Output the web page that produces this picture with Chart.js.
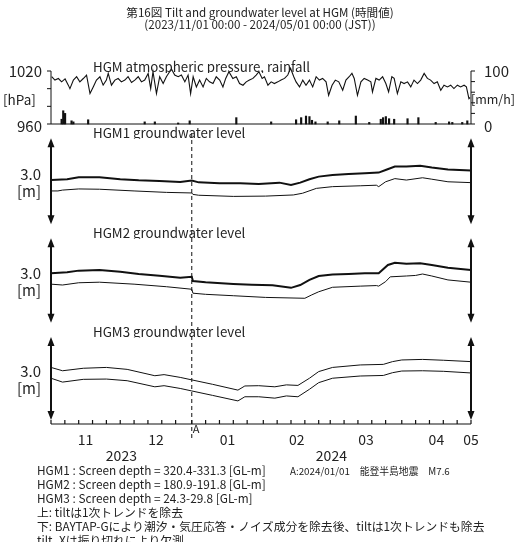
<!DOCTYPE html>
<html>
<head>
<meta charset="utf-8">
<script src="https://cdn.jsdelivr.net/npm/chart.js@4.4.1/dist/chart.umd.min.js"></script>
<style>
  html, body { margin: 0; padding: 0; background: #fff; }
  canvas { display: block; }
</style>
</head>
<body>
<canvas id="chart" width="516" height="542"></canvas>
<script>
// x values are days since 2023/11/01 00:00 (JST)

// atmospheric pressure [hPa]
const pressDay = [0.3,1.7,3.2,4.6,6.1,7.5,8.2,9.7,11.1,12.5,14,15.4,16.9,18.3,19.7,21.2,22.6,24,24.8,26.2,
  27.7,29.1,30.5,32,33.4,34.9,36.3,37.8,39.2,40.6,42.1,43.2,44.2,45.7,47.1,48.6,50,51.4,52.2,53.6,
  55.1,56.5,58,59.4,60.5,61.6,63.0,64.4,65.9,67.3,68.7,70.2,71.6,73.1,74.5,75.7,77.1,78.8,80.3,81.7,
  83.2,84.6,86.0,87.5,88.9,90.1,91.5,92.5,94.0,95.4,96.8,98.3,99.7,101.2,102.6,103.8,105.2,106.2,107.7,109.1,
  110.5,112.0,113.4,114.9,116.3,117.7,119.2,120.3,121.8,123.2,124.7,126.4,127.8,129.2,130.4,131.4,132.8,134.3,135.7,137.2,
  138.6,139.3,140.8,142.2,143.7,145.1,146.3,147.7,148.7,150.1,151.6,153.0,154.5,155.9,157.3,158.8,160.2,161.7,163.1,164.5,
  166.0,167.4,168.9,170.3,171.8,173.2,174.6,176.1,177.5,179.0,180.0,181.1,181.6];
const pressHpa = [1013.5,1009.7,1011.5,1007.7,1011,1004,1000,1009.7,1013.5,1007.7,1011.5,1015.4,994.4,1002,1009.7,1013.5,1004,1009.7,1017.3,1004,
  1009.7,1011.5,1007.7,1009.7,1013.5,1007,1009.7,1013.5,1007.7,1009.7,1017.3,1000,1019.2,994.4,1013.5,1005.8,1013.5,1019.2,1022.3,1015.4,
  1013.5,1015.4,1007.7,1015.4,994.4,1013.5,1002,1009.7,1002,1011.6,1007.7,1005.8,1013.5,1009.7,1002,1011.6,1019.2,1011.6,1013.5,1005.8,
  1003.9,1007.7,1009.7,1011.6,1015.4,1019.2,1011.6,1013.5,1003.9,1007.7,1005.8,1007.7,1009.7,1011.6,1015.4,1023,1013.5,1007.7,1002,1009.7,
  1003.9,1009.7,1002,1013.5,1009.7,1011.6,1007.7,992.5,1003.9,1009.7,1007.7,998.2,1009.7,1013.5,1017.3,1011.6,992.5,1007.7,1011.6,1009.7,
  1007.7,996.3,1011.6,1009.7,1013.5,1005.8,996.3,1013.5,1011.6,994.4,1007.7,1005.8,1007.7,1002,1009.7,1005.8,1009.7,1017.3,1011.6,1009.7,
  1005.8,1007.7,998.2,1003.9,1002,1003.9,1000.1,1003.9,1002,1003.9,1002,988.7,990];

// rainfall [mm/h]
const rainDay = [4.6,5.3,6.1,8.9,9.7,16.1,40.6,45.0,55.1,60.1,80.3,95.4,106.2,108.4,110.5,112.0,113.1,114.6,119.9,124.9,
  132.1,137.9,142.9,143.9,145.1,146.5,148.7,154.5,159.2,166.7,172.5,173.9,178.2,180.4];
const rainMm = [9,25,20,6,4,8,4,4,2,6,12,4,8,12,15,14,7,4,4,6,15,3,9,12,14,10,9,10,12,3,4,3,3,6];

// groundwater level [m] (relative), upper = observed, lower = corrected
const h1UpDay = [0,7,12,21,30,38,47,56,61,64,73,82,90,99,104,108,112,116,122,129,136,142,145,149,154,160,165,172,182];
const h1Up = [0.04,0.07,0.14,0.14,0.07,0.03,0.01,-0.03,0.02,-0.04,-0.07,-0.07,-0.10,-0.05,-0.13,-0.05,0.07,0.16,0.22,0.25,0.28,0.30,0.39,0.51,0.51,0.54,0.48,0.41,0.37];
const h1LoDay = [0,3,5,12,21,36,50,61,61.5,64,79,93,105,109,115,122,134,141,142,145,149,154,161,165,172,182];
const h1Lo = [-0.34,-0.34,-0.31,-0.27,-0.28,-0.34,-0.39,-0.41,-0.46,-0.49,-0.53,-0.52,-0.48,-0.42,-0.25,-0.19,-0.16,-0.14,-0.19,-0.02,0.09,0.04,0.12,0.07,-0.02,-0.05];

const h2UpDay = [0,7,12,21,30,38,47,56,61,61.5,67,79,87,96,104,108,112,116,122,129,136,142,146,149,154,160,165,172,182];
const h2Up = [0.26,0.29,0.35,0.37,0.31,0.23,0.17,0.10,0.13,-0.02,-0.06,-0.12,-0.15,-0.17,-0.26,-0.16,0.02,0.16,0.21,0.23,0.26,0.26,0.55,0.63,0.59,0.61,0.55,0.45,0.37];
const h2LoDay = [0,5,12,21,36,50,61,61.5,67,79,93,110,113,116,122,134,141,142,145,147,154,158,161,165,172,182];
const h2Lo = [-0.13,-0.16,-0.08,-0.06,-0.13,-0.22,-0.31,-0.45,-0.49,-0.54,-0.60,-0.63,-0.51,-0.40,-0.24,-0.20,-0.18,-0.20,-0.04,0.13,0.16,0.18,0.23,0.16,0.02,-0.06];

const h3Day = [0,5,14,24,33,45,49,56,61,70,81,84,90,97,102,107,112,116,122,134,144,148,152,161,170,182];
const h3Up = [0.40,0.28,0.37,0.40,0.33,0.10,0.14,0.04,-0.05,-0.21,-0.42,-0.27,-0.26,-0.30,-0.23,-0.25,0.01,0.25,0.40,0.49,0.51,0.61,0.67,0.69,0.66,0.61];
const h3Lo = [0.01,-0.13,-0.03,-0.02,-0.08,-0.30,-0.26,-0.36,-0.45,-0.61,-0.81,-0.66,-0.66,-0.71,-0.63,-0.66,-0.39,-0.15,0.01,0.09,0.11,0.21,0.27,0.28,0.26,0.20];

// x axis
const monthStart = [0,30,61,92,121,152,182];
const monthLabels = ['11','12','01','02','03','04','05'];
const monthLabelDay = [15,45.5,76.5,106.5,136.5,167,182];
const yearLabels = ['2023','2024'];
const yearLabelDay = [30.5,121.5];
const quakeDay = 61;

const pressTicks = [960,980,1000,1020];
const rainTicks = [0,20,40,60,80,100];

const FONT = "'Noto Sans CJK JP', 'Open Sans', sans-serif";
const AREA = {left: 51, right: 471, top: 60, bottom: 424};

// min/max so that vTop lands on pixel pTop and vBot on pBot
function fitRange(vTop, pTop, vBot, pBot) {
  const k = (pBot - pTop) / (vTop - vBot);
  return {min: vBot - (AREA.bottom - pBot) / k, max: vTop + (pTop - AREA.top) / k};
}

function pts(xs, ys) {
  return xs.map((x, i) => ({x: x, y: ys[i]}));
}

function lineSet(xs, ys, axis, width) {
  return {
    type: 'line', data: pts(xs, ys), yAxisID: axis,
    borderColor: '#111', borderWidth: width, pointRadius: 0, tension: 0, fill: false
  };
}

function yScale(range) {
  return Object.assign({type: 'linear', display: false}, range);
}

const panels = [
  {axis: 'y1', name: 'HGM1 groundwater level'},
  {axis: 'y2', name: 'HGM2 groundwater level'},
  {axis: 'y3', name: 'HGM3 groundwater level'}
];

function arrow(ctx, x, y0, y1) {
  ctx.beginPath();
  ctx.moveTo(x, y0 + 8);
  ctx.lineTo(x, y1 - 8);
  ctx.lineWidth = 2;
  ctx.stroke();
  ctx.beginPath();
  ctx.moveTo(x, y0); ctx.lineTo(x - 3.5, y0 + 9); ctx.lineTo(x + 3.5, y0 + 9); ctx.closePath();
  ctx.moveTo(x, y1); ctx.lineTo(x - 3.5, y1 - 9); ctx.lineTo(x + 3.5, y1 - 9); ctx.closePath();
  ctx.fill();
}

const decor = {
  id: 'decor',
  afterDraw(chart) {
    const ctx = chart.ctx;
    const sx = chart.scales.x, sp = chart.scales.yP, sr = chart.scales.yR;
    const L = sx.getPixelForValue(0), R = sx.getPixelForValue(182), B = chart.chartArea.bottom;
    ctx.save();
    ctx.strokeStyle = '#111';
    ctx.fillStyle = '#222';

    // title
    ctx.textAlign = 'center';
    ctx.textBaseline = 'middle';
    ctx.font = '11.6px ' + FONT;
    ctx.fillText('第16図 Tilt and groundwater level at HGM (時間値)', 260, 13);
    ctx.fillText('(2023/11/01 00:00 - 2024/05/01 00:00 (JST))', 260, 25);

    // pressure / rain panel axes
    ctx.lineWidth = 1;
    const pTop = sp.getPixelForValue(1020), pBot = sp.getPixelForValue(960);
    ctx.beginPath();
    ctx.moveTo(L, pTop); ctx.lineTo(L, pBot);
    pressTicks.forEach(v => { const y = sp.getPixelForValue(v); ctx.moveTo(L - 4, y); ctx.lineTo(L, y); });
    const rTop = sr.getPixelForValue(100), rBot = sr.getPixelForValue(0);
    ctx.moveTo(R, rTop); ctx.lineTo(R, rBot);
    rainTicks.forEach(v => { const y = sr.getPixelForValue(v); ctx.moveTo(R, y); ctx.lineTo(R + 4, y); });
    ctx.moveTo(L, rBot); ctx.lineTo(R, rBot);
    ctx.stroke();

    ctx.font = '15px ' + FONT;
    ctx.textAlign = 'right';
    ctx.fillText('1020', 42, pTop);
    ctx.fillText('960', 42, pBot + 2);
    ctx.textAlign = 'left';
    ctx.fillText('100', 484, rTop);
    ctx.fillText('0', 484, rBot + 2);
    ctx.font = '13.5px ' + FONT;
    ctx.fillText('[hPa]', 3, 100);
    ctx.font = '12.5px ' + FONT;
    ctx.textAlign = 'right';
    ctx.fillText('[mm/h]', 515, 99);

    // panel titles (descenders hidden like the original)
    ctx.font = '13.3px ' + FONT;
    ctx.textAlign = 'left';
    ctx.textBaseline = 'alphabetic';
    const titleBase = [72];
    panels.forEach(p => titleBase.push(chart.scales[p.axis].getPixelForValue(1.5) - 0.5));
    const titleText = ['HGM atmospheric pressure, rainfall'].concat(panels.map(p => p.name));
    titleText.forEach((t, i) => {
      ctx.save();
      ctx.beginPath();
      ctx.rect(0, titleBase[i] - 20, 516, 21);
      ctx.clip();
      ctx.fillText(t, 93, titleBase[i]);
      ctx.restore();
    });

    // groundwater panels: 3.0 m scale arrows
    ctx.fillStyle = '#111';
    panels.forEach(p => {
      const s = chart.scales[p.axis];
      const y0 = s.getPixelForValue(1.5), y1 = s.getPixelForValue(-1.5), yc = s.getPixelForValue(0);
      arrow(ctx, L, y0, y1);
      arrow(ctx, R, y0, y1);
      ctx.fillStyle = '#222';
      ctx.font = '15px ' + FONT;
      ctx.textAlign = 'right';
      ctx.textBaseline = 'middle';
      ctx.fillText('3.0', 41, yc - 7);
      ctx.fillText('[m]', 41, yc + 10);
      ctx.fillStyle = '#111';
    });

    // earthquake marker
    const xq = sx.getPixelForValue(quakeDay);
    ctx.lineWidth = 1;
    ctx.setLineDash([4, 3]);
    ctx.beginPath();
    ctx.moveTo(xq, 133); ctx.lineTo(xq, B + 14);
    ctx.stroke();
    ctx.setLineDash([]);
    ctx.font = '11px ' + FONT;
    ctx.textAlign = 'left';
    ctx.fillStyle = '#222';
    ctx.fillText('A', xq + 1, B + 5);

    // x axis
    ctx.lineWidth = 1.2;
    ctx.beginPath();
    ctx.moveTo(L, B); ctx.lineTo(R, B);
    for (let m = 0; m < monthStart.length - 1; m++) {
      for (let d = 0; d < 30; d += 6) {
        const x = sx.getPixelForValue(monthStart[m] + d);
        ctx.moveTo(x, B); ctx.lineTo(x, B - 4);
      }
    }
    ctx.moveTo(R, B); ctx.lineTo(R, B - 4);
    ctx.stroke();

    ctx.font = '14px ' + FONT;
    ctx.textAlign = 'center';
    ctx.textBaseline = 'middle';
    monthLabels.forEach((t, i) => ctx.fillText(t, sx.getPixelForValue(monthLabelDay[i]), 440));
    yearLabels.forEach((t, i) => ctx.fillText(t, sx.getPixelForValue(yearLabelDay[i]), 456));

    // notes
    ctx.textAlign = 'left';
    ctx.font = '11.8px ' + FONT;
    const notes = [
      'HGM1 : Screen depth = 320.4-331.3 [GL-m]',
      'HGM2 : Screen depth = 180.9-191.8 [GL-m]',
      'HGM3 : Screen depth = 24.3-29.8 [GL-m]',
      '上: tiltは1次トレンドを除去',
      '下: BAYTAP-Gにより潮汐・気圧応答・ノイズ成分を除去後、tiltは1次トレンドも除去',
      'tilt_Xは振り切れにより欠測'
    ];
    notes.forEach((t, i) => ctx.fillText(t, 37, 471 + i * 14));
    ctx.font = '9.8px ' + FONT;
    ctx.fillText('A:2024/01/01　能登半島地震　M7.6', 290, 471);
    ctx.restore();
  }
};

new Chart(document.getElementById('chart'), {
  type: 'line',
  data: {
    datasets: [
      lineSet(pressDay, pressHpa, 'yP', 1.1),
      {
        type: 'bar', data: pts(rainDay, rainMm), yAxisID: 'yR',
        backgroundColor: '#111', barThickness: 1.5
      },
      lineSet(h1UpDay, h1Up, 'y1', 2),
      lineSet(h1LoDay, h1Lo, 'y1', 1),
      lineSet(h2UpDay, h2Up, 'y2', 2),
      lineSet(h2LoDay, h2Lo, 'y2', 1),
      lineSet(h3Day, h3Up, 'y3', 1),
      lineSet(h3Day, h3Lo, 'y3', 1)
    ]
  },
  options: {
    responsive: false,
    animation: false,
    devicePixelRatio: 1,
    layout: {padding: {left: AREA.left, right: 516 - AREA.right, top: AREA.top, bottom: 542 - AREA.bottom}},
    plugins: {legend: {display: false}, tooltip: {enabled: false}, title: {display: false}},
    scales: {
      x: {type: 'linear', display: false, offset: false, min: 0, max: 182},
      yP: yScale(fitRange(1020, 71, 960, 124)),
      yR: yScale(fitRange(100, 71, 0, 124)),
      y1: yScale(fitRange(1.5, 138.2, -1.5, 224.2)),
      y2: yScale(fitRange(1.5, 238.2, -1.5, 322.8)),
      y3: yScale(fitRange(1.5, 337, -1.5, 420))
    }
  },
  plugins: [decor]
});
</script>
</body>
</html>
